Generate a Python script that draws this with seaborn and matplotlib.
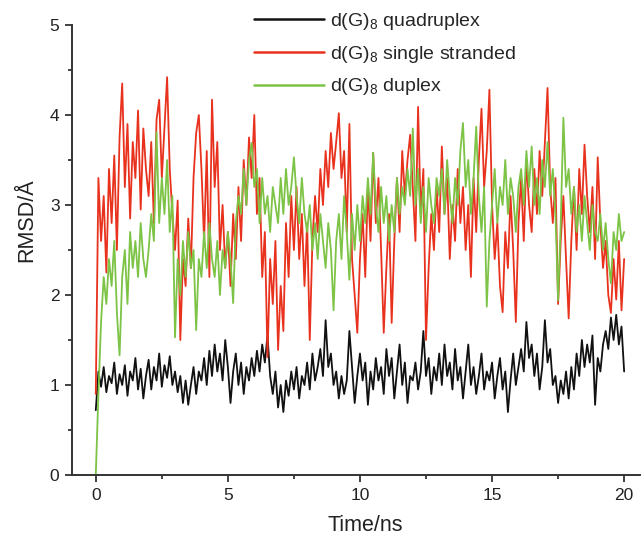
import numpy as np
import pandas as pd
import matplotlib
matplotlib.use("Agg")
import matplotlib.pyplot as plt
import seaborn as sns

time_ns = [round(i * 0.1, 1) for i in range(201)]

quadruplex = [
    0.72, 1.15, 0.98, 1.20, 0.92, 1.10, 1.02, 1.25, 0.90, 1.12,
    1.00, 1.22, 0.88, 1.15, 1.05, 1.30, 0.95, 1.18, 0.85, 1.10,
    1.28, 0.95, 1.20, 1.05, 1.35, 0.98, 1.22, 1.08, 1.32, 1.00,
    1.15, 0.92, 1.10, 0.80, 1.05, 0.78, 1.00, 1.20, 0.90, 1.15,
    1.05, 1.30, 1.00, 1.38, 1.10, 1.45, 1.15, 1.35, 1.05, 1.50,
    1.20, 0.80, 1.15, 1.35, 1.00, 1.25, 0.90, 1.20, 1.05, 1.30,
    1.10, 1.38, 1.15, 1.45, 1.25, 1.55, 1.10, 0.90, 1.15, 0.75,
    1.00, 0.70, 1.05, 0.88, 1.15, 0.95, 1.20, 0.85, 1.10, 1.00,
    1.25, 0.95, 1.35, 1.05, 1.20, 1.40, 1.10, 1.72, 1.20, 1.35,
    1.00, 1.15, 0.85, 1.10, 0.90, 1.05, 1.60, 1.20, 0.80, 1.10,
    1.35, 1.05, 1.25, 0.78, 1.15, 0.95, 1.30, 1.05, 1.20, 0.90,
    1.40, 1.10, 1.30, 0.85, 1.15, 1.45, 1.00, 1.25, 0.80, 1.10,
    1.05, 1.25, 0.95, 1.15, 1.60, 1.10, 1.30, 0.90, 1.20, 1.05,
    1.35, 1.00, 1.45, 1.10, 1.25, 0.95, 1.40, 1.05, 1.20, 0.85,
    1.15, 1.45, 1.00, 1.20, 0.90, 1.10, 1.35, 0.95, 1.15, 1.05,
    1.25, 0.85, 1.10, 1.30, 0.95, 1.15, 0.70, 1.05, 1.35, 1.00,
    1.20, 1.40, 1.15, 1.70, 1.30, 1.45, 1.10, 1.35, 0.95, 1.20,
    1.72, 1.25, 1.40, 1.00, 1.10, 0.80, 1.05, 0.90, 1.15, 0.85,
    1.20, 0.95, 1.35, 1.10, 1.50, 1.20, 1.45, 1.25, 1.55, 0.78,
    1.30, 1.15, 1.45, 1.60, 1.40, 1.75, 1.50, 1.78, 1.45, 1.65,
    1.15,
]

single_stranded = [
    0.90, 3.30, 2.60, 3.10, 2.25, 3.40, 2.80, 3.55, 2.50, 3.75,
    4.35, 3.20, 3.90, 2.85, 3.70, 3.30, 4.05, 2.95, 3.85, 3.40,
    3.10, 3.70, 2.80, 3.95, 4.17, 3.30, 3.85, 4.42, 3.40, 2.90,
    2.50, 3.05, 1.50, 2.40, 2.10, 2.85, 2.30, 3.30, 3.80, 4.00,
    3.40, 2.60, 3.60, 2.20, 4.17, 3.20, 3.70, 2.50, 3.00, 2.30,
    2.70, 2.10, 2.90, 2.40, 3.20, 2.60, 3.50, 3.00, 3.75, 3.30,
    4.00, 2.90, 3.30, 2.20, 2.70, 1.31, 2.40, 1.90, 2.60, 1.39,
    2.10, 1.60, 2.80, 2.20, 3.10, 2.50, 3.20, 2.40, 2.90, 2.10,
    2.80, 1.50, 2.60, 3.10, 2.70, 3.40, 3.00, 3.60, 3.20, 3.80,
    3.40, 3.70, 4.02, 3.30, 3.60, 2.70, 3.90, 2.40, 2.00, 1.58,
    2.40, 2.90, 2.20, 3.20, 2.60, 3.58, 2.80, 3.30, 2.50, 1.58,
    2.30, 2.90, 1.69, 2.60, 3.30, 2.70, 3.60, 3.10, 3.50, 3.78,
    3.20, 2.60, 4.09, 2.90, 3.40, 1.50, 2.30, 2.90, 2.50, 3.20,
    2.70, 3.65, 2.90, 3.30, 2.40, 3.00, 2.60, 3.40, 2.80, 3.20,
    2.50, 3.00, 2.20, 3.30, 2.70, 3.50, 4.07, 3.20, 3.60, 4.28,
    3.00, 2.40, 2.80, 2.10, 1.81, 2.70, 2.30, 3.10, 2.50, 1.70,
    2.80, 3.30, 2.60, 3.50, 3.00, 2.70, 3.40, 2.90, 3.60, 3.10,
    3.70, 4.30, 3.20, 2.80, 3.30, 1.90, 2.60, 3.10, 2.40, 1.74,
    2.60, 3.20, 2.50, 3.40, 2.90, 3.67, 3.10, 2.70, 3.20, 2.40,
    3.53, 2.80, 2.30, 2.60, 2.00, 1.80, 2.40, 1.95, 2.60, 1.83,
    2.40,
]

duplex = [
    0.00, 0.90, 1.70, 2.20, 1.90, 2.40, 2.10, 2.60, 1.80, 1.33,
    2.20, 2.50, 1.90, 2.70, 2.30, 2.60, 2.20, 2.80, 2.40, 2.20,
    2.50, 2.90, 2.60, 3.81, 2.80, 3.30, 2.90, 3.50, 2.70, 3.10,
    1.53, 2.40, 2.00, 2.60, 2.20, 2.70, 2.30, 2.50, 1.61, 2.40,
    2.20, 2.70, 2.30, 2.80, 2.40, 2.20, 2.60, 2.00, 2.50, 2.30,
    2.70, 2.40, 1.91, 2.80, 3.10, 2.90, 3.40, 3.00, 3.50, 3.69,
    3.20, 3.40, 2.80, 3.30, 2.90, 3.10, 2.70, 3.20, 3.00, 2.80,
    3.30, 2.90, 3.40, 3.00, 3.20, 3.53, 3.10, 2.80, 3.30, 2.90,
    2.70, 3.00, 2.50, 2.80, 2.40, 2.90, 2.60, 2.30, 2.80, 2.50,
    1.83, 2.60, 2.90, 2.40, 3.10, 2.70, 2.17, 2.90, 2.50, 3.00,
    2.60, 3.10, 2.80, 3.30, 2.90, 3.58, 3.00, 2.70, 3.20, 2.80,
    3.10, 2.60, 3.00, 2.70, 3.30, 2.90, 3.20, 3.00, 3.40, 3.10,
    3.85, 3.00, 3.40, 2.80, 3.20, 2.70, 3.30, 3.00, 2.80, 3.30,
    3.10, 3.40, 2.90, 3.50, 3.10, 2.80, 3.30, 3.00, 3.60, 3.91,
    3.20, 3.50, 2.90, 3.30, 3.87, 3.10, 2.70, 3.20, 1.87, 2.60,
    3.00, 3.40, 2.80, 3.20, 3.00, 3.50, 2.90, 3.30, 3.10, 2.70,
    3.20, 3.40, 3.00, 3.60, 3.20, 3.65, 3.00, 3.30, 2.90, 3.50,
    3.20, 3.70, 3.10, 3.40, 2.90, 1.94, 2.80, 3.97, 3.20, 3.40,
    2.90, 3.20, 2.70, 3.00, 2.60, 3.10, 2.80, 2.50, 3.00, 2.70,
    2.60, 2.90, 2.50, 2.80, 2.40, 2.13, 2.70, 2.50, 2.90, 2.60,
    2.70,
]

series_labels = [
    "d(G)$_8$ quadruplex",
    "d(G)$_8$ single stranded",
    "d(G)$_8$ duplex",
]
series_colors = ["#111111", "#e8321e", "#7cc346"]

x_ticks = [0, 5, 10, 15, 20]
y_ticks = [0, 1, 2, 3, 4, 5]

frames = []
for lab, vals in zip(series_labels, [quadruplex, single_stranded, duplex]):
    frames.append(pd.DataFrame({"t": time_ns, "v": vals, "series": lab}))
df = pd.concat(frames, ignore_index=True)

sns.set_theme(style="ticks")
plt.rcParams["font.family"] = ["Liberation Sans", "DejaVu Sans"]
plt.rcParams["mathtext.fontset"] = "custom"
plt.rcParams["mathtext.rm"] = "Liberation Sans"

fig = plt.figure(figsize=(6.44, 5.35), dpi=100)
ax = fig.add_axes([72 / 644, 60 / 535, 568 / 644, 450 / 535])

sns.lineplot(data=df, x="t", y="v", hue="series", hue_order=series_labels,
             palette=dict(zip(series_labels, series_colors)),
             estimator=None, sort=False, linewidth=1.3, legend=False, ax=ax)

ax.set_xlim(-0.9, 20.6)
ax.set_ylim(0, 5)
ax.set_xticks(x_ticks)
ax.set_yticks(y_ticks)
ax.set_xticks([2.5, 7.5, 12.5, 17.5], minor=True)
ax.set_yticks([0.5, 1.5, 2.5, 3.5, 4.5], minor=True)
ax.tick_params(which="major", direction="out", length=5, width=1.2,
               labelsize=12.5, colors="#222222", pad=4)
ax.tick_params(which="minor", direction="out", length=3, width=1.2,
               colors="#222222")
ax.set_xlabel("Time/ns", fontsize=15.5, color="#222222")
ax.set_ylabel("RMSD/Å", fontsize=15.5, color="#222222")
ax.xaxis.set_label_coords(0.516, -0.088)
ax.yaxis.set_label_coords(-0.062, 0.567)
sns.despine(ax=ax)
for s in ["left", "bottom"]:
    ax.spines[s].set_linewidth(1.4)
    ax.spines[s].set_color("#333333")

handles = ax.lines[:3]
leg = ax.legend(handles, series_labels, loc="upper left",
                bbox_to_anchor=(254 / 644, 1 - 11 / 535),
                bbox_transform=fig.transFigure, frameon=False,
                fontsize=14, handlelength=3.6, handletextpad=0.3,
                labelspacing=0.6, borderpad=0, borderaxespad=0)
for ln in leg.get_lines():
    ln.set_linewidth(1.8)

fig.savefig("out.png", dpi=100)
